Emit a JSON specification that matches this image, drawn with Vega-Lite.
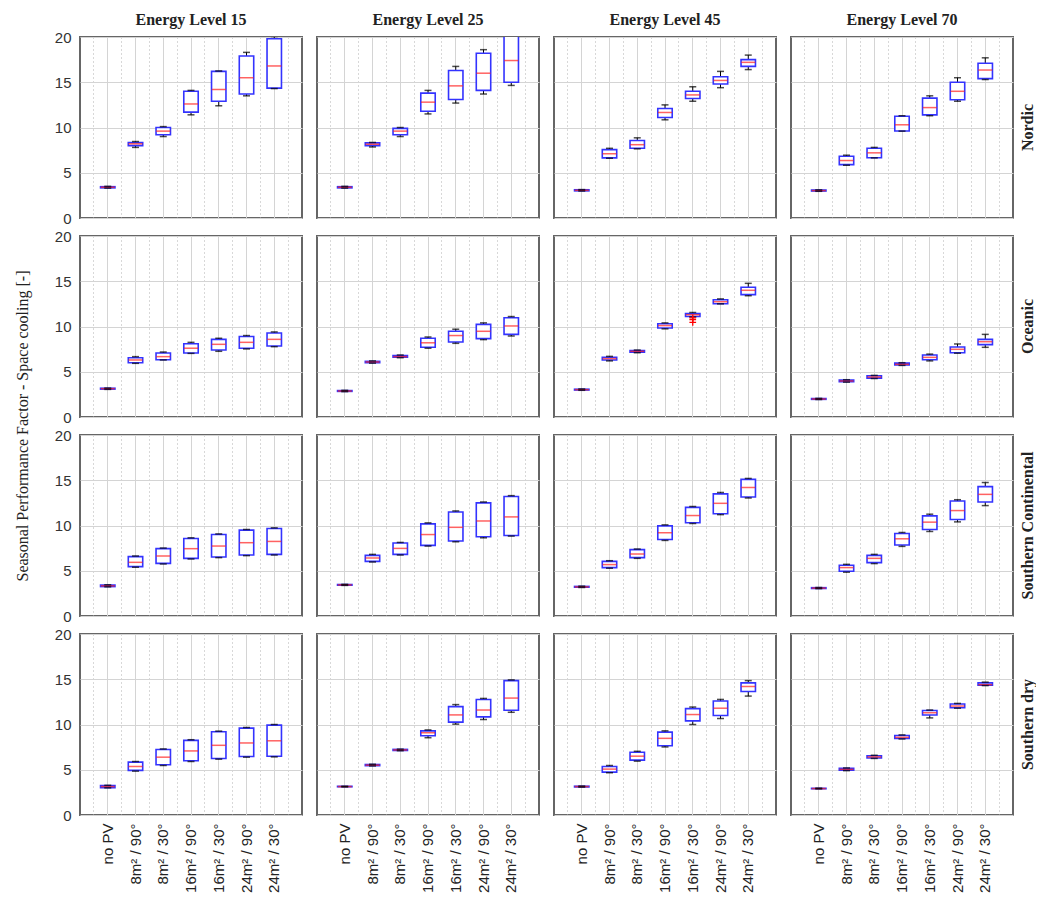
{
"$schema": "https://vega.github.io/schema/vega-lite/v6.json",
"padding": {"left": 14, "top": 12, "right": 0, "bottom": 0},
"background": "white",
"data": {"values": [
{"level":"Energy Level 15","climate":"Nordic","config":"no PV","low":3.3,"q1":3.33,"median":3.4,"q3":3.46,"high":3.5},
{"level":"Energy Level 15","climate":"Nordic","config":"8m² / 90°","low":7.8,"q1":8.0,"median":8.2,"q3":8.35,"high":8.45},
{"level":"Energy Level 15","climate":"Nordic","config":"8m² / 30°","low":9.0,"q1":9.2,"median":9.6,"q3":10.0,"high":10.1},
{"level":"Energy Level 15","climate":"Nordic","config":"16m² / 90°","low":11.4,"q1":11.7,"median":12.6,"q3":14.0,"high":14.1},
{"level":"Energy Level 15","climate":"Nordic","config":"16m² / 30°","low":12.4,"q1":12.9,"median":14.2,"q3":16.2,"high":16.25},
{"level":"Energy Level 15","climate":"Nordic","config":"24m² / 90°","low":13.5,"q1":13.7,"median":15.5,"q3":17.9,"high":18.3},
{"level":"Energy Level 15","climate":"Nordic","config":"24m² / 30°","low":14.3,"q1":14.35,"median":16.8,"q3":19.8,"high":20.05},
{"level":"Energy Level 25","climate":"Nordic","config":"no PV","low":3.3,"q1":3.33,"median":3.4,"q3":3.46,"high":3.5},
{"level":"Energy Level 25","climate":"Nordic","config":"8m² / 90°","low":7.85,"q1":8.0,"median":8.15,"q3":8.3,"high":8.35},
{"level":"Energy Level 25","climate":"Nordic","config":"8m² / 30°","low":9.0,"q1":9.2,"median":9.6,"q3":9.9,"high":10.0},
{"level":"Energy Level 25","climate":"Nordic","config":"16m² / 90°","low":11.5,"q1":11.8,"median":12.8,"q3":13.8,"high":14.1},
{"level":"Energy Level 25","climate":"Nordic","config":"16m² / 30°","low":12.7,"q1":13.1,"median":14.6,"q3":16.3,"high":16.75},
{"level":"Energy Level 25","climate":"Nordic","config":"24m² / 90°","low":13.7,"q1":14.1,"median":16.0,"q3":18.2,"high":18.6},
{"level":"Energy Level 25","climate":"Nordic","config":"24m² / 30°","low":14.65,"q1":15.0,"median":17.4,"q3":20.6,"high":21.0},
{"level":"Energy Level 45","climate":"Nordic","config":"no PV","low":2.98,"q1":3.0,"median":3.06,"q3":3.12,"high":3.14},
{"level":"Energy Level 45","climate":"Nordic","config":"8m² / 90°","low":6.6,"q1":6.64,"median":7.1,"q3":7.56,"high":7.7},
{"level":"Energy Level 45","climate":"Nordic","config":"8m² / 30°","low":7.64,"q1":7.7,"median":8.1,"q3":8.56,"high":8.86},
{"level":"Energy Level 45","climate":"Nordic","config":"16m² / 90°","low":10.85,"q1":11.1,"median":11.66,"q3":12.1,"high":12.5},
{"level":"Energy Level 45","climate":"Nordic","config":"16m² / 30°","low":12.9,"q1":13.2,"median":13.6,"q3":14.0,"high":14.5},
{"level":"Energy Level 45","climate":"Nordic","config":"24m² / 90°","low":14.4,"q1":14.8,"median":15.2,"q3":15.6,"high":16.2},
{"level":"Energy Level 45","climate":"Nordic","config":"24m² / 30°","low":16.4,"q1":16.75,"median":17.2,"q3":17.5,"high":18.0},
{"level":"Energy Level 70","climate":"Nordic","config":"no PV","low":2.95,"q1":2.98,"median":3.03,"q3":3.09,"high":3.11},
{"level":"Energy Level 70","climate":"Nordic","config":"8m² / 90°","low":5.83,"q1":5.9,"median":6.35,"q3":6.83,"high":6.94},
{"level":"Energy Level 70","climate":"Nordic","config":"8m² / 30°","low":6.64,"q1":6.66,"median":7.2,"q3":7.7,"high":7.8},
{"level":"Energy Level 70","climate":"Nordic","config":"16m² / 90°","low":9.6,"q1":9.62,"median":10.3,"q3":11.25,"high":11.3},
{"level":"Energy Level 70","climate":"Nordic","config":"16m² / 30°","low":11.3,"q1":11.4,"median":12.2,"q3":13.25,"high":13.5},
{"level":"Energy Level 70","climate":"Nordic","config":"24m² / 90°","low":12.9,"q1":13.06,"median":14.0,"q3":15.0,"high":15.5},
{"level":"Energy Level 70","climate":"Nordic","config":"24m² / 30°","low":15.3,"q1":15.4,"median":16.35,"q3":17.1,"high":17.7},
{"level":"Energy Level 15","climate":"Oceanic","config":"no PV","low":3.05,"q1":3.08,"median":3.13,"q3":3.18,"high":3.2},
{"level":"Energy Level 15","climate":"Oceanic","config":"8m² / 90°","low":5.93,"q1":6.0,"median":6.3,"q3":6.55,"high":6.67},
{"level":"Energy Level 15","climate":"Oceanic","config":"8m² / 30°","low":6.3,"q1":6.33,"median":6.67,"q3":7.07,"high":7.18},
{"level":"Energy Level 15","climate":"Oceanic","config":"16m² / 90°","low":7.03,"q1":7.07,"median":7.6,"q3":8.1,"high":8.25},
{"level":"Energy Level 15","climate":"Oceanic","config":"16m² / 30°","low":7.26,"q1":7.4,"median":8.03,"q3":8.58,"high":8.7},
{"level":"Energy Level 15","climate":"Oceanic","config":"24m² / 90°","low":7.52,"q1":7.6,"median":8.25,"q3":8.9,"high":9.0},
{"level":"Energy Level 15","climate":"Oceanic","config":"24m² / 30°","low":7.77,"q1":7.85,"median":8.58,"q3":9.28,"high":9.4},
{"level":"Energy Level 25","climate":"Oceanic","config":"no PV","low":2.8,"q1":2.83,"median":2.87,"q3":2.92,"high":2.95},
{"level":"Energy Level 25","climate":"Oceanic","config":"8m² / 90°","low":5.95,"q1":6.0,"median":6.08,"q3":6.15,"high":6.2},
{"level":"Energy Level 25","climate":"Oceanic","config":"8m² / 30°","low":6.55,"q1":6.6,"median":6.67,"q3":6.78,"high":6.85},
{"level":"Energy Level 25","climate":"Oceanic","config":"16m² / 90°","low":7.6,"q1":7.7,"median":8.2,"q3":8.7,"high":8.84},
{"level":"Energy Level 25","climate":"Oceanic","config":"16m² / 30°","low":8.14,"q1":8.29,"median":9.0,"q3":9.47,"high":9.7},
{"level":"Energy Level 25","climate":"Oceanic","config":"24m² / 90°","low":8.55,"q1":8.66,"median":9.47,"q3":10.24,"high":10.4},
{"level":"Energy Level 25","climate":"Oceanic","config":"24m² / 30°","low":8.95,"q1":9.13,"median":10.06,"q3":10.97,"high":11.1},
{"level":"Energy Level 45","climate":"Oceanic","config":"no PV","low":2.95,"q1":2.98,"median":3.02,"q3":3.07,"high":3.1},
{"level":"Energy Level 45","climate":"Oceanic","config":"8m² / 90°","low":6.2,"q1":6.3,"median":6.45,"q3":6.6,"high":6.7},
{"level":"Energy Level 45","climate":"Oceanic","config":"8m² / 30°","low":7.1,"q1":7.15,"median":7.26,"q3":7.33,"high":7.4},
{"level":"Energy Level 45","climate":"Oceanic","config":"16m² / 90°","low":9.74,"q1":9.83,"median":10.1,"q3":10.3,"high":10.4},
{"level":"Energy Level 45","climate":"Oceanic","config":"16m² / 30°","low":11.05,"q1":11.1,"median":11.3,"q3":11.42,"high":11.55},
{"level":"Energy Level 45","climate":"Oceanic","config":"24m² / 90°","low":12.5,"q1":12.52,"median":12.74,"q3":12.96,"high":13.05},
{"level":"Energy Level 45","climate":"Oceanic","config":"24m² / 30°","low":13.4,"q1":13.52,"median":14.0,"q3":14.33,"high":14.77},
{"level":"Energy Level 70","climate":"Oceanic","config":"no PV","low":1.93,"q1":1.95,"median":1.99,"q3":2.04,"high":2.06},
{"level":"Energy Level 70","climate":"Oceanic","config":"8m² / 90°","low":3.85,"q1":3.9,"median":3.98,"q3":4.08,"high":4.12},
{"level":"Energy Level 70","climate":"Oceanic","config":"8m² / 30°","low":4.25,"q1":4.3,"median":4.42,"q3":4.55,"high":4.6},
{"level":"Energy Level 70","climate":"Oceanic","config":"16m² / 90°","low":5.7,"q1":5.75,"median":5.82,"q3":5.95,"high":6.0},
{"level":"Energy Level 70","climate":"Oceanic","config":"16m² / 30°","low":6.2,"q1":6.33,"median":6.59,"q3":6.85,"high":6.95},
{"level":"Energy Level 70","climate":"Oceanic","config":"24m² / 90°","low":7.05,"q1":7.1,"median":7.48,"q3":7.73,"high":8.07},
{"level":"Energy Level 70","climate":"Oceanic","config":"24m² / 30°","low":7.7,"q1":8.0,"median":8.32,"q3":8.58,"high":9.13},
{"level":"Energy Level 15","climate":"Southern Continental","config":"no PV","low":3.22,"q1":3.25,"median":3.33,"q3":3.42,"high":3.45},
{"level":"Energy Level 15","climate":"Southern Continental","config":"8m² / 90°","low":5.39,"q1":5.46,"median":5.93,"q3":6.56,"high":6.63},
{"level":"Energy Level 15","climate":"Southern Continental","config":"8m² / 30°","low":5.75,"q1":5.82,"median":6.63,"q3":7.44,"high":7.51},
{"level":"Energy Level 15","climate":"Southern Continental","config":"16m² / 90°","low":6.3,"q1":6.37,"median":7.44,"q3":8.57,"high":8.64},
{"level":"Energy Level 15","climate":"Southern Continental","config":"16m² / 30°","low":6.45,"q1":6.52,"median":7.73,"q3":9.0,"high":9.07},
{"level":"Energy Level 15","climate":"Southern Continental","config":"24m² / 90°","low":6.67,"q1":6.74,"median":8.1,"q3":9.49,"high":9.56},
{"level":"Energy Level 15","climate":"Southern Continental","config":"24m² / 30°","low":6.74,"q1":6.81,"median":8.24,"q3":9.67,"high":9.74},
{"level":"Energy Level 25","climate":"Southern Continental","config":"no PV","low":3.38,"q1":3.4,"median":3.44,"q3":3.48,"high":3.5},
{"level":"Energy Level 25","climate":"Southern Continental","config":"8m² / 90°","low":5.97,"q1":6.04,"median":6.41,"q3":6.7,"high":6.81},
{"level":"Energy Level 25","climate":"Southern Continental","config":"8m² / 30°","low":6.74,"q1":6.81,"median":7.47,"q3":8.06,"high":8.13},
{"level":"Energy Level 25","climate":"Southern Continental","config":"16m² / 90°","low":7.73,"q1":7.8,"median":9.0,"q3":10.18,"high":10.29},
{"level":"Energy Level 25","climate":"Southern Continental","config":"16m² / 30°","low":8.2,"q1":8.28,"median":9.8,"q3":11.5,"high":11.61},
{"level":"Energy Level 25","climate":"Southern Continental","config":"24m² / 90°","low":8.64,"q1":8.75,"median":10.5,"q3":12.5,"high":12.6},
{"level":"Energy Level 25","climate":"Southern Continental","config":"24m² / 30°","low":8.83,"q1":8.9,"median":10.95,"q3":13.2,"high":13.3},
{"level":"Energy Level 45","climate":"Southern Continental","config":"no PV","low":3.15,"q1":3.18,"median":3.22,"q3":3.27,"high":3.3},
{"level":"Energy Level 45","climate":"Southern Continental","config":"8m² / 90°","low":5.28,"q1":5.35,"median":5.68,"q3":6.04,"high":6.11},
{"level":"Energy Level 45","climate":"Southern Continental","config":"8m² / 30°","low":6.37,"q1":6.45,"median":6.85,"q3":7.33,"high":7.4},
{"level":"Energy Level 45","climate":"Southern Continental","config":"16m² / 90°","low":8.35,"q1":8.46,"median":9.2,"q3":9.96,"high":10.07},
{"level":"Energy Level 45","climate":"Southern Continental","config":"16m² / 30°","low":10.22,"q1":10.3,"median":11.1,"q3":12.0,"high":12.1},
{"level":"Energy Level 45","climate":"Southern Continental","config":"24m² / 90°","low":11.2,"q1":11.3,"median":12.45,"q3":13.5,"high":13.65},
{"level":"Energy Level 45","climate":"Southern Continental","config":"24m² / 30°","low":13.04,"q1":13.15,"median":14.2,"q3":15.1,"high":15.2},
{"level":"Energy Level 70","climate":"Southern Continental","config":"no PV","low":3.02,"q1":3.04,"median":3.08,"q3":3.13,"high":3.15},
{"level":"Energy Level 70","climate":"Southern Continental","config":"8m² / 90°","low":4.84,"q1":4.95,"median":5.35,"q3":5.6,"high":5.71},
{"level":"Energy Level 70","climate":"Southern Continental","config":"8m² / 30°","low":5.79,"q1":5.9,"median":6.37,"q3":6.7,"high":6.81},
{"level":"Energy Level 70","climate":"Southern Continental","config":"16m² / 90°","low":7.69,"q1":7.84,"median":8.53,"q3":9.12,"high":9.23},
{"level":"Energy Level 70","climate":"Southern Continental","config":"16m² / 30°","low":9.34,"q1":9.56,"median":10.37,"q3":11.06,"high":11.25},
{"level":"Energy Level 70","climate":"Southern Continental","config":"24m² / 90°","low":10.4,"q1":10.66,"median":11.65,"q3":12.7,"high":12.85},
{"level":"Energy Level 70","climate":"Southern Continental","config":"24m² / 30°","low":12.2,"q1":12.6,"median":13.44,"q3":14.3,"high":14.75},
{"level":"Energy Level 15","climate":"Southern dry","config":"no PV","low":3.0,"q1":3.03,"median":3.14,"q3":3.25,"high":3.28},
{"level":"Energy Level 15","climate":"Southern dry","config":"8m² / 90°","low":4.85,"q1":4.93,"median":5.36,"q3":5.84,"high":5.91},
{"level":"Energy Level 15","climate":"Southern dry","config":"8m² / 30°","low":5.47,"q1":5.55,"median":6.39,"q3":7.23,"high":7.3},
{"level":"Energy Level 15","climate":"Southern dry","config":"16m² / 90°","low":5.91,"q1":5.99,"median":7.08,"q3":8.25,"high":8.32},
{"level":"Energy Level 15","climate":"Southern dry","config":"16m² / 30°","low":6.17,"q1":6.24,"median":7.7,"q3":9.2,"high":9.27},
{"level":"Energy Level 15","climate":"Southern dry","config":"24m² / 90°","low":6.39,"q1":6.46,"median":7.96,"q3":9.6,"high":9.67},
{"level":"Energy Level 15","climate":"Southern dry","config":"24m² / 30°","low":6.42,"q1":6.5,"median":8.2,"q3":9.93,"high":10.0},
{"level":"Energy Level 25","climate":"Southern dry","config":"no PV","low":3.1,"q1":3.12,"median":3.14,"q3":3.17,"high":3.18},
{"level":"Energy Level 25","climate":"Southern dry","config":"8m² / 90°","low":5.42,"q1":5.45,"median":5.51,"q3":5.58,"high":5.61},
{"level":"Energy Level 25","climate":"Southern dry","config":"8m² / 30°","low":7.1,"q1":7.13,"median":7.19,"q3":7.25,"high":7.28},
{"level":"Energy Level 25","climate":"Southern dry","config":"16m² / 90°","low":8.54,"q1":8.76,"median":9.09,"q3":9.3,"high":9.4},
{"level":"Energy Level 25","climate":"Southern dry","config":"16m² / 30°","low":10.04,"q1":10.26,"median":11.06,"q3":11.97,"high":12.2},
{"level":"Energy Level 25","climate":"Southern dry","config":"24m² / 90°","low":10.55,"q1":10.84,"median":11.6,"q3":12.77,"high":12.88},
{"level":"Energy Level 25","climate":"Southern dry","config":"24m² / 30°","low":11.35,"q1":11.57,"median":12.92,"q3":14.85,"high":14.93},
{"level":"Energy Level 45","climate":"Southern dry","config":"no PV","low":3.08,"q1":3.1,"median":3.14,"q3":3.18,"high":3.2},
{"level":"Energy Level 45","climate":"Southern dry","config":"8m² / 90°","low":4.67,"q1":4.74,"median":5.07,"q3":5.36,"high":5.47},
{"level":"Energy Level 45","climate":"Southern dry","config":"8m² / 30°","low":5.95,"q1":6.06,"median":6.5,"q3":6.93,"high":7.04},
{"level":"Energy Level 45","climate":"Southern dry","config":"16m² / 90°","low":7.52,"q1":7.66,"median":8.47,"q3":9.16,"high":9.3},
{"level":"Energy Level 45","climate":"Southern dry","config":"16m² / 30°","low":10.0,"q1":10.4,"median":11.1,"q3":11.75,"high":11.93},
{"level":"Energy Level 45","climate":"Southern dry","config":"24m² / 90°","low":10.66,"q1":11.0,"median":11.8,"q3":12.6,"high":12.77},
{"level":"Energy Level 45","climate":"Southern dry","config":"24m² / 30°","low":13.14,"q1":13.65,"median":14.2,"q3":14.6,"high":14.85},
{"level":"Energy Level 70","climate":"Southern dry","config":"no PV","low":2.88,"q1":2.9,"median":2.92,"q3":2.95,"high":2.97},
{"level":"Energy Level 70","climate":"Southern dry","config":"8m² / 90°","low":4.9,"q1":4.96,"median":5.04,"q3":5.15,"high":5.2},
{"level":"Energy Level 70","climate":"Southern dry","config":"8m² / 30°","low":6.25,"q1":6.3,"median":6.42,"q3":6.55,"high":6.6},
{"level":"Energy Level 70","climate":"Southern dry","config":"16m² / 90°","low":8.4,"q1":8.45,"median":8.58,"q3":8.78,"high":8.85},
{"level":"Energy Level 70","climate":"Southern dry","config":"16m² / 30°","low":10.73,"q1":11.05,"median":11.3,"q3":11.55,"high":11.6},
{"level":"Energy Level 70","climate":"Southern dry","config":"24m² / 90°","low":11.8,"q1":11.85,"median":12.04,"q3":12.26,"high":12.33},
{"level":"Energy Level 70","climate":"Southern dry","config":"24m² / 30°","low":14.3,"q1":14.35,"median":14.4,"q3":14.6,"high":14.68},
{"level":"Energy Level 45","climate":"Oceanic","config":"16m² / 30°","outlier":10.95},
{"level":"Energy Level 45","climate":"Oceanic","config":"16m² / 30°","outlier":10.75},
{"level":"Energy Level 45","climate":"Oceanic","config":"16m² / 30°","outlier":10.45}
]},
"facet": {
  "column": {"field": "level", "type": "nominal", "sort": ["Energy Level 15","Energy Level 25","Energy Level 45","Energy Level 70"], "title": null,
    "header": {"labelFont": "Liberation Serif", "labelFontWeight": "bold", "labelFontSize": 16, "labelColor": "#222", "labelPadding": 8}},
  "row": {"field": "climate", "type": "nominal", "sort": ["Nordic","Oceanic","Southern Continental","Southern dry"],
    "title": "Seasonal Performance Factor - Space cooling [-]",
    "header": {"titleOrient": "left", "titleAngle": -90, "titleFont": "Liberation Serif", "titleFontSize": 16, "titleFontWeight": "normal", "titleColor": "#222", "titlePadding": -3,
      "labelOrient": "right", "labelAngle": -90, "labelAlign": "center", "labelBaseline": "bottom", "labelFont": "Liberation Serif", "labelFontWeight": "bold", "labelFontSize": 16, "labelColor": "#222", "labelPadding": 6}}
},
"spacing": {"row": 16, "column": 13},
"spec": {
  "width": 222,
  "height": 181,
  "resolve": {"axis": {"x": "independent"}},
  "layer": [
    {
      "transform": [{"filter": "isValid(datum.median)"}],
      "mark": {"type": "rule", "color": "black", "strokeWidth": 1, "clip": true},
      "encoding": {
        "x": {"field": "config", "type": "nominal",
          "sort": ["no PV","8m² / 90°","8m² / 30°","16m² / 90°","16m² / 30°","24m² / 90°","24m² / 30°"],
          "scale": {"type": "band", "paddingInner": 0, "paddingOuter": 0.5},
          "axis": {"title": null, "orient": "bottom", "labelAngle": -90, "labelFont": "Liberation Sans", "labelFontSize": 15, "labelColor": "#222", "labelPadding": 7, "ticks": false, "domain": false, "grid": true, "gridColor": "#d4d4d4", "gridWidth": 1, "bandPosition": 0.5}},
        "y": {"field": "low", "type": "quantitative",
          "scale": {"domain": [0, 20], "nice": false},
          "axis": {"title": null,
            "values": [0, 2.5, 5, 7.5, 10, 12.5, 15, 17.5, 20],
            "labelExpr": "datum.value % 5 === 0 ? datum.label : ''",
            "labelFont": "Liberation Sans", "labelFontSize": 15, "labelColor": "#333", "labelPadding": 8,
            "ticks": false, "domain": false, "grid": true,
            "gridColor": {"condition": {"test": "datum.value % 5 !== 0", "value": "#b0b0b0"}, "value": "#d4d4d4"},
            "gridDash": {"condition": {"test": "datum.value % 5 !== 0", "value": [1, 3]}, "value": []}}},
        "y2": {"field": "high"}
      }
    },
    {
      "transform": [{"filter": "isValid(datum.median)"}],
      "mark": {"type": "bar", "fill": "white", "stroke": "#3333ff", "strokeWidth": 1.6, "width": {"band": 0.52}, "clip": true},
      "encoding": {
        "x": {"field": "config", "type": "nominal",
          "sort": ["no PV","8m² / 90°","8m² / 30°","16m² / 90°","16m² / 30°","24m² / 90°","24m² / 30°"],
          "axis": {"title": null, "orient": "bottom", "labels": false, "ticks": false, "domain": false, "grid": true, "gridColor": "#b0b0b0", "gridDash": [1, 3], "bandPosition": 0}},
        "y": {"field": "q1", "type": "quantitative"},
        "y2": {"field": "q3"}
      }
    },
    {
      "transform": [{"filter": "isValid(datum.median)"}],
      "mark": {"type": "tick", "color": "#ff2020", "size": 14, "thickness": 1.5, "clip": true},
      "encoding": {
        "x": {"field": "config", "type": "nominal",
          "sort": ["no PV","8m² / 90°","8m² / 30°","16m² / 90°","16m² / 30°","24m² / 90°","24m² / 30°"],
          "axis": {"title": null, "orient": "bottom", "labels": false, "ticks": false, "domain": false, "grid": true, "gridColor": "#b0b0b0", "gridDash": [1, 3], "bandPosition": 1, "values": ["24m² / 30°"]}},
        "y": {"field": "median", "type": "quantitative"}
      }
    },
    {
      "transform": [{"filter": "isValid(datum.median)"}],
      "mark": {"type": "tick", "color": "black", "size": 7, "thickness": 1.5, "clip": true},
      "encoding": {
        "x": {"field": "config", "type": "nominal", "sort": ["no PV","8m² / 90°","8m² / 30°","16m² / 90°","16m² / 30°","24m² / 90°","24m² / 30°"], "axis": null},
        "y": {"field": "low", "type": "quantitative"}
      }
    },
    {
      "transform": [{"filter": "isValid(datum.median)"}],
      "mark": {"type": "tick", "color": "black", "size": 7, "thickness": 1.5, "clip": true},
      "encoding": {
        "x": {"field": "config", "type": "nominal", "sort": ["no PV","8m² / 90°","8m² / 30°","16m² / 90°","16m² / 30°","24m² / 90°","24m² / 30°"], "axis": null},
        "y": {"field": "high", "type": "quantitative"}
      }
    },
    {
      "transform": [{"filter": "isValid(datum.outlier)"}],
      "mark": {"type": "point", "shape": "M-1,0L1,0M0,-1L0,1", "filled": false, "stroke": "#ff0000", "strokeWidth": 1.3, "size": 45, "opacity": 1},
      "encoding": {
        "x": {"field": "config", "type": "nominal", "sort": ["no PV","8m² / 90°","8m² / 30°","16m² / 90°","16m² / 30°","24m² / 90°","24m² / 30°"], "axis": null},
        "y": {"field": "outlier", "type": "quantitative"}
      }
    }
  ]
},
"config": {
  "view": {"stroke": "#666666", "strokeWidth": 2},
  "header": {"labelFont": "Liberation Serif"}
}
}
